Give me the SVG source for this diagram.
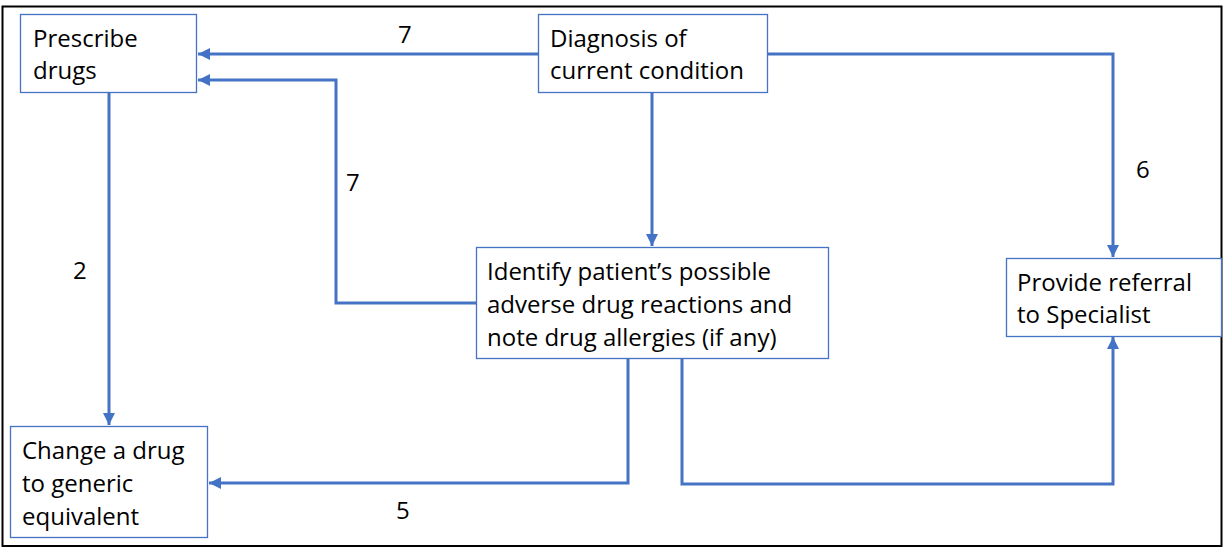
<svg xmlns="http://www.w3.org/2000/svg" width="1225" height="549" viewBox="0 0 1225 549">
<defs>
<style>
.box{fill:#fff;stroke:#4472C4;stroke-width:1.3}
.t{font-family:"Open Sans","Liberation Sans",sans-serif;font-size:24px;fill:#000}
.c{fill:none;stroke:#4472C4;stroke-width:3}
</style>
<marker id="ah" viewBox="0 0 10 10" refX="10" refY="5" markerWidth="4" markerHeight="4" orient="auto" markerUnits="strokeWidth">
<path d="M0,0 L10,5 L0,10 z" fill="#4472C4"/>
</marker>
</defs>
<rect x="0" y="0" width="1225" height="549" fill="#fff"/>
<rect x="2.5" y="6.5" width="1219" height="539.5" fill="none" stroke="#000" stroke-width="2"/>
<g id="connectors">
<path class="c" d="M538,54 H198" marker-end="url(#ah)"/>
<path class="c" d="M476,303 H336 V80 H198" marker-end="url(#ah)"/>
<path class="c" d="M109,92 V425" marker-end="url(#ah)"/>
<path class="c" d="M652,92 V246" marker-end="url(#ah)"/>
<path class="c" d="M767,54 H1113 V257" marker-end="url(#ah)"/>
<path class="c" d="M628,359 V483 H209" marker-end="url(#ah)"/>
<path class="c" d="M682,359 V484 H1113 V337" marker-end="url(#ah)"/>
<text class="t" x="398" y="43">7</text>
<text class="t" x="346" y="191">7</text>
<text class="t" x="73" y="279">2</text>
<text class="t" x="1136" y="178">6</text>
<text class="t" x="396" y="519">5</text>
</g>
<g id="prescribe">
<rect class="box" x="20.5" y="14.5" width="176" height="78"/>
<text class="t" x="33" y="47">Prescribe</text>
<text class="t" x="33" y="79">drugs</text>
</g>
<g id="diagnosis">
<rect class="box" x="538.5" y="14.5" width="229" height="78"/>
<text class="t" x="550" y="47">Diagnosis of</text>
<text class="t" x="550" y="79">current condition</text>
</g>
<g id="identify">
<rect class="box" x="476.5" y="247.5" width="352" height="111"/>
<text class="t" x="487" y="280">Identify patient’s possible</text>
<text class="t" x="487" y="313">adverse drug reactions and</text>
<text class="t" x="487" y="346">note drug allergies (if any)</text>
</g>
<g id="change">
<rect class="box" x="10.5" y="426.5" width="197" height="111"/>
<text class="t" x="22" y="459">Change a drug</text>
<text class="t" x="22" y="492">to generic</text>
<text class="t" x="22" y="525">equivalent</text>
</g>
<g id="referral">
<rect class="box" x="1006.5" y="258.5" width="215" height="78"/>
<text class="t" x="1017" y="291">Provide referral</text>
<text class="t" x="1017" y="323">to Specialist</text>
</g>
</svg>
